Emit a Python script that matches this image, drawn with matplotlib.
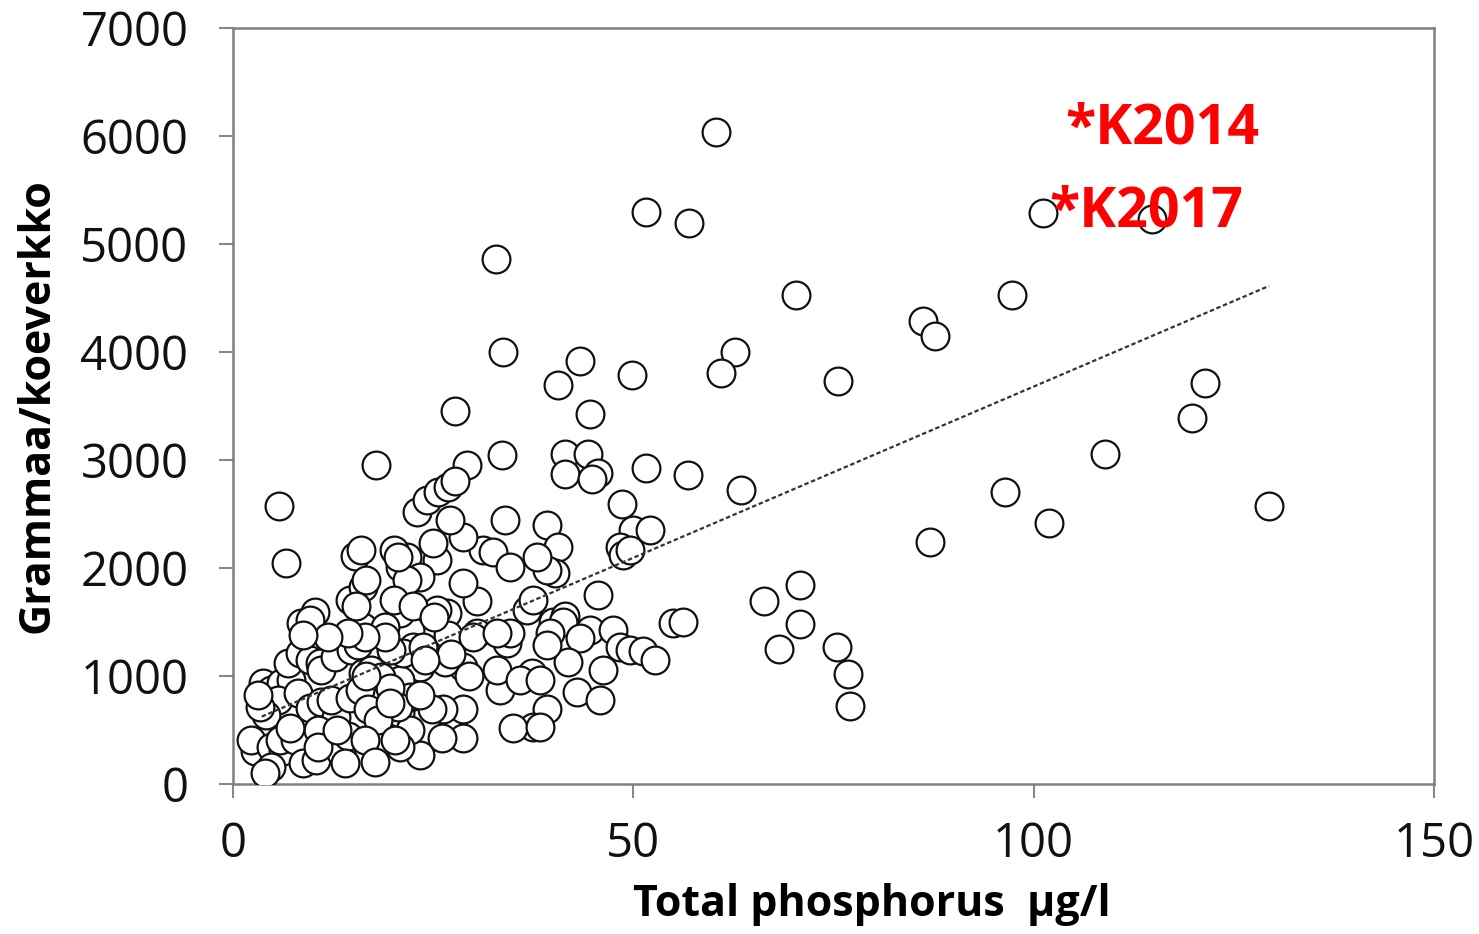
import matplotlib
matplotlib.use("Agg")
import matplotlib.pyplot as plt
import numpy as np

# ---- data ----
phosphorus = [
    60.3, 51.6, 57.0, 101.2, 114.8, 32.8, 70.3, 97.3, 86.2, 87.7,
    33.7, 43.3, 62.7, 60.9, 49.8, 75.6, 40.6, 121.4, 119.8, 27.7,
    44.6, 108.9, 33.6, 41.5, 44.3, 17.9, 29.2, 51.6, 56.8, 41.5,
    45.6, 44.8, 63.5, 96.4, 5.7, 129.4, 101.9, 87.1, 6.6, 70.8,
    66.3, 68.2, 70.8, 75.4, 76.8, 77.0,
    48.6, 50.0, 52.1, 48.3, 48.7, 49.6, 39.2, 40.6, 40.2, 45.6,
    40.0, 41.5, 44.6, 47.5, 55.0, 56.2, 36.7, 37.5, 41.2, 43.3,
    41.8, 46.2, 43.0, 45.8, 48.3, 49.6, 51.2, 52.7, 37.3, 39.2,
    37.5, 35.0, 33.3, 33.0, 34.2, 34.6, 35.8, 38.3, 39.6, 28.7,
    26.1, 23.4, 28.7, 26.2, 24.9, 28.7, 26.5, 30.5, 30.5, 28.7,
    26.7, 25.5, 31.2, 32.5, 34.6, 34.0, 28.7, 25.5, 27.1, 25.0,
    20.9, 21.7, 23.4, 21.7, 22.1, 20.9, 22.5, 23.4, 20.9, 22.1,
    20.9, 22.1, 20.9, 20.6, 23.4, 21.2, 23.7, 26.9, 30.0, 39.2,
    38.3, 23.0, 24.2, 25.6, 26.9, 27.7, 39.2, 38.0, 15.2, 16.0,
    20.1, 20.6, 14.6, 16.2, 16.6, 8.5, 10.2, 9.6, 16.2, 19.0,
    3.7, 4.7, 6.0, 7.2, 6.9, 8.4, 9.6, 10.9, 11.0, 12.7,
    14.7, 15.6, 16.2, 17.2, 18.5, 19.6, 19.7, 19.0, 16.5, 14.4,
    11.9, 8.7, 5.6, 4.1, 3.4, 8.1, 9.6, 11.0, 12.9, 12.2,
    14.6, 15.9, 16.9, 18.1, 19.6, 20.2, 2.7, 2.2, 4.7, 6.2,
    5.9, 4.7, 4.0, 7.7, 8.7, 10.4, 10.6, 13.5, 14.4, 14.0,
    16.5, 10.6, 3.1, 7.1, 33.0, 15.4, 16.6, 20.1, 22.5, 25.1,
    27.2, 29.5, 13.0, 17.8, 24.0,
]
biomass = [
    6040, 5300, 5190, 5290, 5230, 4860, 4530, 4530, 4290, 4150,
    4000, 3920, 4000, 3810, 3790, 3730, 3690, 3710, 3390, 3450,
    3430, 3060, 3050, 3060, 3060, 2950, 2950, 2930, 2860, 2870,
    2880, 2820, 2720, 2700, 2570, 2570, 2420, 2240, 2050, 1840,
    1690, 1250, 1480, 1270, 1020, 720,
    2590, 2350, 2350, 2190, 2120, 2170, 2400, 2190, 1950, 1750,
    1500, 1560, 1430, 1430, 1490, 1500, 1610, 1700, 1500, 1350,
    1130, 1060, 850, 780, 1270, 1240, 1230, 1150, 1030, 690,
    530, 520, 870, 1060, 1310, 1400, 960, 960, 1400, 430,
    430, 270, 690, 690, 690, 1080, 1130, 1400, 1690, 1860,
    1580, 1610, 2170, 2150, 2010, 2440, 2290, 2070, 2440, 2230,
    2010, 2100, 1920, 1890, 1430, 1580, 1270, 1080, 960, 810,
    660, 500, 340, 710, 820, 1210, 1270, 1380, 1360, 1290,
    530, 2520, 2630, 2700, 2750, 2810, 1980, 2100, 2110, 2170,
    2170, 2100, 1700, 1820, 1890, 1490, 1590, 1520, 1450, 1450,
    935, 870, 935, 960, 1120, 1210, 1150, 1120, 1060, 1180,
    1240, 1290, 1030, 1060, 990, 890, 1240, 1360, 1360, 1400,
    1360, 1380, 780, 640, 710, 840, 700, 760, 620, 780,
    800, 870, 690, 590, 750, 410, 310, 410, 340, 310,
    410, 160, 100, 410, 190, 220, 500, 290, 440, 190,
    410, 340, 820, 520, 1400, 1650, 1000, 1700, 1650, 1550,
    1200, 1000, 500, 200, 1150,
]

# fitted trend line
trend_slope = 31.7
trend_intercept = 510.0
trend_x_range = [3.6, 129.4]

x_ticks = [0, 50, 100, 150]
y_ticks = [0, 1000, 2000, 3000, 4000, 5000, 6000, 7000]
x_label = "Total phosphorus  µg/l"
y_label = "Grammaa/koeverkko"
annotations = ["*K2014", "*K2017"]
annotation_x = [103.9, 102.0]
annotation_y = [5935, 5160]

plt.rcParams['font.family'] = ['Open Sans', 'DejaVu Sans']

fig = plt.figure(figsize=(14.79, 9.34), dpi=100)
ax = fig.add_axes([0.1575, 0.1606, 0.9696 - 0.1575, 0.970 - 0.1606])

ax.scatter(phosphorus, biomass, s=400, facecolor='white', edgecolor='#111111',
           linewidths=1.6, zorder=3)

tx = np.array(trend_x_range)
ax.plot(tx, trend_slope * tx + trend_intercept, color='#333333', lw=1.6,
        linestyle=(0, (2, 1.2)), zorder=4)

for label, lx, ly in zip(annotations, annotation_x, annotation_y):
    ax.text(lx, ly, label, color='#ff0000', fontsize=40, fontweight='bold',
            ha='left', va='baseline', zorder=5)

ax.set_xlim(0, 150)
ax.set_ylim(0, 7000)
ax.set_xticks(x_ticks)
ax.set_yticks(y_ticks)
ax.tick_params(axis='both', labelsize=34, length=10, width=1.5,
               color='#888888', direction='out', pad=16, labelcolor='#111111')
ax.tick_params(axis='y', pad=22)
for sp in ax.spines.values():
    sp.set_color('#7f7f7f')
    sp.set_linewidth(1.8)

ax.set_xlabel(x_label, fontsize=31, fontweight='bold')
ax.xaxis.set_label_coords(0.532, -0.16)
ax.xaxis.label.set_va('center')
ax.set_ylabel(y_label, fontsize=31, fontweight='bold', labelpad=16)

fig.savefig("out.png", dpi=100, facecolor='white')
